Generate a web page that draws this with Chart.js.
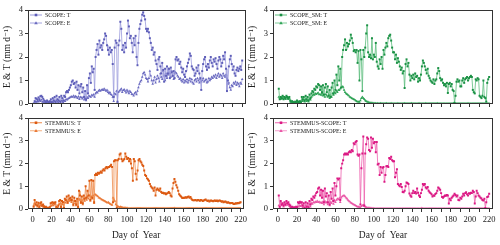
<!DOCTYPE html>
<html>
<head>
<meta charset="utf-8">
<script src="https://cdn.jsdelivr.net/npm/chart.js@4.4.1/dist/chart.umd.min.js"></script>
<style>
  html, body { margin: 0; padding: 0; background: #fff; }
  #wrap { position: relative; width: 500px; height: 245px; overflow: hidden; }
  canvas { position: absolute; }
</style>
</head>
<body>
<div id="wrap">
  <canvas id="c1" width="250" height="112" style="left:0;top:0"></canvas>
  <canvas id="c2" width="255" height="112" style="left:245px;top:0"></canvas>
  <canvas id="c3" width="250" height="133" style="left:0;top:112px"></canvas>
  <canvas id="c4" width="255" height="133" style="left:245px;top:112px"></canvas>
</div>
<script>
// day of year 1..220
const dayFirst = 1, dayLast = 220;
const days = [];
for (let d = dayFirst; d <= dayLast; d++) days.push(d);

const xTicks = [0, 10, 20, 30, 40, 50, 60, 70, 80, 90, 100, 110, 120, 130, 140, 150, 160, 170, 180, 190, 200, 210, 220];
const xLabels = [0, 20, 40, 60, 80, 100, 120, 140, 160, 180, 200, 220];
const yTicks = [0, 1, 2, 3, 4];

// SCOPE
const scopeT = [
  0.02, 0.12, 0.25, 0.22, 0.18, 0.28, 0.2, 0.33, 0.35, 0.3,
  0.22, 0.15, 0.12, 0.08, 0.15, 0.1, 0.05, 0.12, 0.2, 0.08,
  0.25, 0.15, 0.3, 0.1, 0.35, 0.2, 0.15, 0.3, 0.1, 0.35,
  0.25, 0.15, 0.35, 0.3, 0.5, 0.55, 0.5, 0.6, 0.7, 0.8,
  0.95, 1.0, 0.85, 0.9, 0.7, 0.95, 0.6, 0.8, 0.45, 0.75,
  0.85, 0.5, 0.7, 0.3, 0.55, 0.2, 0.8, 0.45, 1.1, 1.3,
  0.9, 1.6, 1.35, 1.5, 0.6, 2.0, 2.3, 2.55, 2.1, 2.7,
  2.4, 2.5, 2.3, 2.6, 2.75, 3.0, 2.9, 2.5, 2.3, 2.1,
  2.4, 2.2, 2.3, 1.7, 0.3, 2.4, 2.7, 2.6, 0.1, 2.5,
  2.7, 3.5, 3.2, 2.3, 2.5, 2.2, 2.6, 2.4, 3.0, 3.55,
  3.3, 2.8, 2.9, 2.6, 2.2, 2.8, 2.5, 2.9, 2.0, 1.65,
  2.6, 3.2, 3.4, 3.55, 3.8, 3.9, 3.75, 3.6, 3.2, 3.1,
  3.2, 3.05, 2.8, 2.6, 2.3, 2.4, 2.1, 2.2, 1.85, 1.7,
  1.45, 1.9, 2.0, 1.6, 1.3, 1.75, 1.45, 0.95, 1.5, 1.2,
  1.6, 1.3, 1.5, 1.1, 1.55, 1.35, 1.2, 1.4, 1.1, 1.9,
  2.0, 1.85, 1.9, 1.7, 1.8, 1.55, 1.35, 1.5, 1.25, 1.15,
  1.4, 1.6, 1.75, 1.9, 2.15, 2.05, 1.6, 1.5, 1.45, 1.2,
  1.3, 1.55, 1.4, 1.65, 1.3, 1.1, 0.6, 1.4, 1.7, 1.9,
  2.0, 1.6, 1.45, 1.7, 1.55, 1.85, 2.0, 1.75, 1.6, 1.9,
  1.8, 1.95, 1.7, 1.5, 1.85, 2.0, 1.9, 1.6, 1.75, 2.05,
  1.9, 2.2, 1.5, 0.55, 1.0, 1.6, 1.9, 2.05, 1.7, 1.45,
  1.6, 1.3, 1.2, 1.45, 1.55, 1.4, 1.5, 1.6, 1.45, 1.85
];
const scopeE = [
  0.0, 0.05, 0.1, 0.08, 0.12, 0.1, 0.15, 0.12, 0.18, 0.1,
  0.08, 0.05, 0.03, 0.05, 0.02, 0.04, 0.03, 0.06, 0.08, 0.04,
  0.1, 0.06, 0.12, 0.05, 0.15, 0.08, 0.05, 0.12, 0.04, 0.15,
  0.1, 0.06, 0.15, 0.12, 0.2, 0.18, 0.22, 0.25, 0.28, 0.3,
  0.32, 0.3, 0.35, 0.28, 0.33, 0.3, 0.25, 0.32, 0.2, 0.3,
  0.28, 0.22, 0.3, 0.18, 0.25, 0.15, 0.3, 0.25, 0.35, 0.32,
  0.3, 0.38, 0.35, 0.4, 0.3, 0.45, 0.5, 0.48, 0.55, 0.6,
  0.55, 0.6, 0.62, 0.58, 0.65, 0.6, 0.55, 0.6, 0.5, 0.45,
  0.5, 0.42, 0.38, 0.3, 0.12, 0.45, 0.4, 0.55, 0.08, 0.5,
  0.55, 0.6, 0.65, 0.5, 0.58, 0.62, 0.55, 0.48, 0.6, 0.52,
  0.45, 0.55, 0.5, 0.42, 0.4, 0.35, 0.45, 0.5, 0.4, 0.55,
  0.7, 0.85, 0.95, 1.0, 1.15, 1.3, 1.35, 1.25, 1.1, 1.05,
  0.95, 1.1, 1.4, 1.2, 1.0, 0.85, 1.0, 1.15, 0.9, 1.05,
  1.2, 1.1, 0.95, 1.3, 1.15, 1.05, 1.4, 1.2, 1.0, 1.3,
  1.1, 1.25, 1.5, 1.3, 1.15, 1.4, 1.2, 1.05, 1.3, 1.35,
  1.3, 1.2, 1.15, 1.05, 1.1, 1.0, 0.95, 1.05, 0.9, 1.0,
  0.95, 1.05, 0.9, 1.0, 1.1, 0.95, 1.05, 0.9, 0.85, 1.0,
  1.05, 0.95, 1.1, 1.0, 0.9, 1.05, 0.95, 1.0, 1.1, 0.95,
  1.0, 1.05, 0.9, 0.95, 1.1, 1.0, 1.05, 1.15, 1.1, 1.2,
  1.15, 1.25, 1.1, 1.2, 1.3, 1.15, 1.25, 1.2, 1.1, 1.3,
  1.2, 1.15, 1.25, 1.1, 0.85, 0.9, 0.7, 0.6, 0.8, 0.75,
  0.9, 0.85, 0.95, 0.8, 0.9, 0.85, 0.75, 0.9, 0.85, 1.05
];

// SCOPE_SM
const scopeSmT = [
  0.65, 0.2, 0.3, 0.25, 0.35, 0.2, 0.3, 0.25, 0.35, 0.3,
  0.25, 0.3, 0.15, 0.1, 0.12, 0.08, 0.05, 0.1, 0.08, 0.15,
  0.1, 0.05, 0.12, 0.08, 0.3, 0.2, 0.3, 0.15, 0.35, 0.2,
  0.3, 0.15, 0.4, 0.25, 0.45, 0.55, 0.5, 0.65, 0.6, 0.75,
  0.7, 0.85, 0.8, 0.6, 0.75, 0.5, 0.8, 0.4, 0.7, 0.85,
  0.5, 0.75, 0.35, 0.6, 0.3, 0.7, 0.9, 0.45, 1.0, 0.6,
  1.25, 0.8, 1.6, 1.0, 1.5, 0.7, 2.0, 2.3, 2.5, 2.75,
  2.3, 2.6, 2.45, 2.55, 2.7, 2.95, 2.8, 2.6, 2.25, 2.3,
  2.2, 2.3, 1.75, 2.25, 1.0, 2.3, 1.9, 0.55, 2.3, 2.0,
  2.4, 3.0, 3.35, 2.2, 2.0, 2.1, 1.95, 2.8, 1.9, 2.1,
  2.0, 2.6, 1.8, 1.6, 1.5, 1.9, 1.7, 2.0, 1.5, 2.3,
  2.1, 2.4, 2.6, 2.45, 2.8, 2.9, 2.95, 2.7, 2.4, 2.2,
  2.2, 1.9, 2.1, 1.75, 1.95, 1.8, 1.6, 1.45, 1.55, 1.3,
  1.4, 0.68, 1.7, 1.9, 1.6, 1.75, 1.25, 1.0, 1.2, 1.1,
  1.25, 1.05, 1.3, 1.15, 1.2, 0.95, 1.1, 1.0, 1.25, 1.6,
  1.85, 1.75, 1.6, 1.45, 1.3, 1.5, 1.2, 1.1, 1.0, 0.95,
  0.9, 1.05, 0.85, 1.0, 1.05, 1.3, 1.53, 1.4, 1.1, 1.0,
  1.05, 0.9, 0.8, 0.85, 0.75, 0.9, 0.47, 0.85, 0.9, 0.75,
  0.85, 0.6, 0.55, 0.05, 0.35, 0.95, 1.05, 0.95, 1.0, 0.75,
  0.75, 1.0, 1.1, 0.9, 1.05, 1.1, 1.15, 1.0, 1.1, 1.15,
  1.2, 1.15, 0.6, 0.5, 0.45, 1.05, 1.0, 1.1, 1.05, 0.35,
  0.3, 0.25, 0.35, 1.0, 0.3, 0.25, 0.1, 0.9, 1.05, 1.15
];
const scopeSmE = [
  0.3, 0.25, 0.2, 0.28, 0.22, 0.3, 0.25, 0.2, 0.3, 0.22,
  0.2, 0.25, 0.1, 0.08, 0.05, 0.06, 0.04, 0.05, 0.08, 0.06,
  0.08, 0.05, 0.1, 0.06, 0.15, 0.12, 0.18, 0.1, 0.2, 0.12,
  0.15, 0.1, 0.2, 0.18, 0.3, 0.35, 0.4, 0.38, 0.45, 0.42,
  0.45, 0.48, 0.4, 0.42, 0.38, 0.45, 0.35, 0.4, 0.3, 0.42,
  0.35, 0.3, 0.4, 0.25, 0.35, 0.3, 0.45, 0.38, 0.5, 0.45,
  0.55, 0.5, 0.6, 0.58, 0.65, 0.7, 0.75, 0.72, 0.6, 0.5,
  0.45, 0.42, 0.38, 0.35, 0.3, 0.28, 0.25, 0.22, 0.2, 0.18,
  0.15, 0.12, 0.1, 0.1, 0.08, 0.15, 0.25, 0.3, 0.25, 0.2,
  0.15, 0.12, 0.1, 0.08, 0.06, 0.05, 0.05, 0.04, 0.04, 0.03,
  0.03, 0.03, 0.02, 0.03, 0.02, 0.02, 0.03, 0.02, 0.02, 0.02,
  0.02, 0.02, 0.03, 0.02, 0.02, 0.02, 0.02, 0.03, 0.02, 0.02,
  0.02, 0.02, 0.02, 0.02, 0.03, 0.02, 0.02, 0.02, 0.02, 0.02,
  0.02, 0.03, 0.02, 0.02, 0.02, 0.02, 0.02, 0.02, 0.03, 0.02,
  0.02, 0.02, 0.02, 0.02, 0.02, 0.02, 0.03, 0.02, 0.02, 0.02,
  0.02, 0.02, 0.02, 0.03, 0.02, 0.02, 0.02, 0.02, 0.02, 0.02,
  0.02, 0.02, 0.02, 0.02, 0.02, 0.03, 0.02, 0.02, 0.02, 0.02,
  0.02, 0.02, 0.02, 0.02, 0.02, 0.02, 0.02, 0.02, 0.02, 0.02,
  0.02, 0.02, 0.03, 0.02, 0.02, 0.02, 0.02, 0.02, 0.02, 0.02,
  0.02, 0.02, 0.02, 0.02, 0.02, 0.02, 0.02, 0.03, 0.02, 0.02,
  0.02, 0.02, 0.02, 0.02, 0.02, 0.02, 0.02, 0.02, 0.02, 0.02,
  0.02, 0.02, 0.02, 0.02, 0.02, 0.02, 0.02, 0.02, 0.02, 0.02
];

// STEMMUS
const stemmusT = [
  0.1, 0.4, 0.2, 0.3, 0.15, 0.28, 0.1, 0.25, 0.3, 0.15,
  0.2, 0.12, 0.08, 0.1, 0.05, 0.06, 0.04, 0.08, 0.25, 0.28,
  0.3, 0.25, 0.28, 0.3, 0.1, 0.05, 0.15, 0.35, 0.4, 0.1,
  0.35, 0.3, 0.05, 0.45, 0.4, 0.55, 0.3, 0.6, 0.45, 0.5,
  0.4, 0.55, 0.2, 0.5, 0.35, 0.2, 0.45, 0.1, 0.8, 0.6,
  0.3, 0.55, 0.25, 0.6, 0.45, 1.0, 0.5, 0.8, 0.6, 1.25,
  0.4, 1.28, 0.5, 1.25, 0.3, 1.5, 1.55, 1.5, 1.6, 1.55,
  1.6, 1.65, 1.6, 1.7, 1.75, 1.7, 1.8, 1.85, 1.8, 1.85,
  1.85, 1.9, 1.95, 1.85, 0.3, 2.1, 2.15, 2.15, 0.05, 2.15,
  2.2, 2.4, 2.45, 2.2, 2.1, 2.15, 2.2, 2.45, 2.3, 2.2,
  2.25, 2.1, 2.2, 2.0, 1.8, 1.25, 2.2, 2.1, 1.55, 1.3,
  1.7, 2.15, 2.2, 2.1, 2.05, 1.95, 1.9, 1.7, 1.5, 1.45,
  1.35, 1.3, 1.25, 1.1, 1.0, 0.95, 0.9, 0.8, 0.95, 0.6,
  0.85, 0.9, 0.85, 0.8, 0.9, 0.75, 0.7, 0.72, 0.68, 0.7,
  0.65, 0.68, 0.7, 0.75, 0.7, 0.6, 0.55, 0.9, 1.15, 1.32,
  1.2, 1.05, 0.95, 0.8, 0.65, 0.6, 0.55, 0.5, 0.48, 0.5,
  0.5, 0.52, 0.5, 0.53, 0.55, 0.5, 0.53, 0.45, 0.4, 0.38,
  0.38, 0.4, 0.38, 0.37, 0.4, 0.38, 0.36, 0.4, 0.38, 0.35,
  0.37, 0.4, 0.42, 0.38, 0.35, 0.37, 0.33, 0.36, 0.38, 0.35,
  0.34, 0.36, 0.38, 0.35, 0.37, 0.34, 0.36, 0.38, 0.35, 0.32,
  0.34, 0.3, 0.32, 0.33, 0.3, 0.28, 0.3, 0.27, 0.25, 0.27,
  0.26, 0.24, 0.22, 0.23, 0.25, 0.24, 0.26, 0.25, 0.28, 0.3
];
const stemmusE = [
  0.15, 0.25, 0.2, 0.15, 0.1, 0.2, 0.08, 0.15, 0.2, 0.12,
  0.1, 0.08, 0.05, 0.06, 0.03, 0.04, 0.03, 0.05, 0.12, 0.15,
  0.18, 0.15, 0.2, 0.22, 0.08, 0.04, 0.1, 0.2, 0.25, 0.08,
  0.22, 0.2, 0.05, 0.3, 0.28, 0.35, 0.25, 0.4, 0.35, 0.38,
  0.3, 0.4, 0.15, 0.35, 0.25, 0.15, 0.35, 0.08, 0.45, 0.4,
  0.25, 0.4, 0.2, 0.45, 0.35, 0.5, 0.4, 0.55, 0.45, 0.6,
  0.35, 0.55, 0.45, 0.6, 0.25, 0.65, 0.62, 0.58, 0.55, 0.5,
  0.48, 0.45, 0.42, 0.4, 0.38, 0.35, 0.33, 0.3, 0.28, 0.3,
  0.25, 0.22, 0.2, 0.18, 0.5, 0.4, 0.35, 0.2, 0.15, 0.12,
  0.1, 0.08, 0.1, 0.08, 0.07, 0.06, 0.05, 0.05, 0.04, 0.04,
  0.03, 0.03, 0.03, 0.03, 0.03, 0.03, 0.03, 0.03, 0.03, 0.03,
  0.03, 0.03, 0.03, 0.03, 0.03, 0.03, 0.03, 0.03, 0.03, 0.03,
  0.03, 0.03, 0.03, 0.03, 0.03, 0.03, 0.03, 0.03, 0.03, 0.03,
  0.03, 0.03, 0.03, 0.03, 0.03, 0.03, 0.03, 0.03, 0.03, 0.03,
  0.03, 0.03, 0.03, 0.03, 0.03, 0.03, 0.03, 0.03, 0.03, 0.04,
  0.03, 0.03, 0.03, 0.03, 0.03, 0.03, 0.03, 0.03, 0.03, 0.03,
  0.03, 0.03, 0.03, 0.03, 0.03, 0.03, 0.03, 0.03, 0.03, 0.03,
  0.03, 0.03, 0.03, 0.03, 0.03, 0.03, 0.03, 0.03, 0.03, 0.03,
  0.03, 0.03, 0.03, 0.03, 0.03, 0.03, 0.03, 0.03, 0.03, 0.03,
  0.03, 0.03, 0.03, 0.03, 0.03, 0.03, 0.03, 0.03, 0.03, 0.03,
  0.03, 0.03, 0.03, 0.03, 0.03, 0.03, 0.03, 0.03, 0.03, 0.03,
  0.03, 0.03, 0.03, 0.03, 0.03, 0.03, 0.03, 0.03, 0.03, 0.03
];

// STEMMUS-SCOPE
const stemmusScopeT = [
  0.6, 0.1, 0.35, 0.2, 0.25, 0.15, 0.3, 0.2, 0.35, 0.25,
  0.3, 0.2, 0.15, 0.08, 0.1, 0.05, 0.08, 0.05, 0.1, 0.08,
  0.3, 0.25, 0.32, 0.28, 0.3, 0.15, 0.25, 0.05, 0.3, 0.1,
  0.25, 0.08, 0.35, 0.2, 0.45, 0.4, 0.55, 0.5, 0.6, 0.7,
  0.75, 0.9, 0.95, 0.6, 0.85, 0.5, 0.8, 0.3, 0.9, 0.55,
  0.7, 0.3, 0.6, 0.2, 0.75, 0.45, 0.9, 0.35, 1.15, 0.6,
  1.0, 1.35, 1.3, 1.35, 0.4, 1.8, 2.0, 2.15, 2.4, 2.45,
  2.4, 2.45, 2.4, 2.5, 2.55, 2.5, 2.6, 2.55, 2.9, 2.85,
  2.95, 3.0, 2.4, 2.35, 2.4, 0.2, 1.8, 2.45, 3.2, 0.15,
  2.45, 2.85, 3.15, 3.1, 2.6, 2.55, 3.15, 2.7, 3.1, 2.9,
  2.95, 2.5, 2.95, 1.96, 2.0, 1.5, 1.85, 1.6, 1.82, 1.85,
  1.2, 1.5, 1.88, 1.9, 1.85, 2.25, 2.2, 2.3, 2.15, 2.1,
  2.1, 1.4, 1.6, 1.75, 1.1, 1.05, 1.0, 1.1, 0.97, 0.75,
  0.74, 0.8, 1.0, 1.17, 1.15, 1.1, 0.68, 0.6, 0.54, 0.7,
  0.8, 0.7, 0.75, 0.68, 0.9, 0.72, 0.6, 0.53, 0.7, 0.85,
  1.1, 1.05, 1.1, 0.95, 0.9, 0.97, 0.8, 0.74, 0.7, 0.65,
  0.55, 0.6, 0.58, 0.66, 0.7, 0.8, 0.95, 0.9, 0.85, 0.7,
  0.53, 0.5, 0.55, 0.6, 0.58, 0.62, 0.6, 0.24, 0.45, 0.38,
  0.5, 0.55, 0.6, 0.67, 0.62, 0.55, 0.6, 0.4, 0.38, 0.5,
  0.45, 0.55, 0.67, 0.6, 0.7, 0.74, 0.65, 0.6, 0.7, 0.67,
  0.72, 0.7, 0.8, 0.75, 0.24, 0.55, 0.8, 0.7, 0.6, 0.55,
  0.5, 0.46, 0.4, 0.37, 0.45, 0.05, 0.3, 0.53, 0.55, 0.67
];
const stemmusScopeE = [
  0.15, 0.05, 0.3, 0.15, 0.2, 0.1, 0.22, 0.15, 0.25, 0.18,
  0.2, 0.12, 0.08, 0.05, 0.06, 0.03, 0.05, 0.03, 0.06, 0.05,
  0.12, 0.1, 0.15, 0.12, 0.18, 0.08, 0.1, 0.03, 0.15, 0.05,
  0.12, 0.05, 0.2, 0.1, 0.25, 0.22, 0.3, 0.28, 0.32, 0.3,
  0.35, 0.3, 0.32, 0.28, 0.3, 0.25, 0.32, 0.2, 0.35, 0.28,
  0.3, 0.2, 0.28, 0.15, 0.3, 0.25, 0.35, 0.22, 0.4, 0.3,
  0.4, 0.45, 0.42, 0.48, 0.3, 0.5, 0.55, 0.58, 0.6, 0.55,
  0.5, 0.45, 0.4, 0.35, 0.32, 0.28, 0.25, 0.22, 0.2, 0.18,
  0.15, 0.12, 0.1, 0.1, 0.08, 0.05, 0.12, 0.15, 0.18, 0.12,
  0.1, 0.08, 0.06, 0.05, 0.05, 0.04, 0.04, 0.03, 0.03, 0.03,
  0.02, 0.02, 0.02, 0.02, 0.02, 0.02, 0.02, 0.02, 0.02, 0.02,
  0.02, 0.02, 0.02, 0.02, 0.02, 0.02, 0.02, 0.02, 0.02, 0.02,
  0.02, 0.02, 0.02, 0.02, 0.02, 0.02, 0.02, 0.02, 0.02, 0.02,
  0.02, 0.02, 0.02, 0.02, 0.02, 0.02, 0.02, 0.02, 0.02, 0.02,
  0.02, 0.02, 0.02, 0.02, 0.02, 0.02, 0.02, 0.02, 0.02, 0.04,
  0.02, 0.02, 0.02, 0.02, 0.02, 0.02, 0.02, 0.02, 0.02, 0.02,
  0.02, 0.02, 0.02, 0.02, 0.02, 0.02, 0.02, 0.02, 0.02, 0.02,
  0.02, 0.02, 0.02, 0.02, 0.02, 0.02, 0.02, 0.02, 0.02, 0.02,
  0.02, 0.02, 0.02, 0.02, 0.02, 0.02, 0.02, 0.02, 0.02, 0.02,
  0.02, 0.02, 0.02, 0.02, 0.02, 0.02, 0.02, 0.02, 0.02, 0.02,
  0.02, 0.02, 0.02, 0.02, 0.02, 0.02, 0.02, 0.02, 0.02, 0.02,
  0.02, 0.02, 0.02, 0.02, 0.02, 0.02, 0.02, 0.02, 0.02, 0.02
];

const serif = "'Liberation Serif', 'DejaVu Serif', serif";
const ink = '#222';

// frame box + inline legend (line with marker in the middle)
const panelDecor = {
  id: 'panelDecor',
  afterDatasetsDraw(chart, args, opts) {
    const { ctx, chartArea: a } = chart;
    ctx.save();
    ctx.strokeStyle = '#333';
    ctx.lineWidth = 1;
    const l = Math.round(a.left) + 0.5, t = Math.round(a.top) + 0.5;
    const r = Math.round(a.right) - 0.5, b = Math.round(a.bottom) - 0.5;
    ctx.strokeRect(l, t, r - l, b - t);

    chart.data.datasets.forEach((ds, i) => {
      const y = a.top + opts.top + i * 8;
      const x0 = a.left + 2, x1 = a.left + 14, xm = (x0 + x1) / 2;
      ctx.strokeStyle = ds.borderColor;
      ctx.lineWidth = 1;
      ctx.beginPath();
      ctx.moveTo(x0, y);
      ctx.lineTo(x1, y);
      ctx.stroke();
      ctx.fillStyle = ds.pointBackgroundColor;
      ctx.beginPath();
      if (ds.pointStyle === 'triangle') {
        ctx.moveTo(xm, y - 1.8);
        ctx.lineTo(xm + 1.8, y + 1.3);
        ctx.lineTo(xm - 1.8, y + 1.3);
        ctx.closePath();
      } else {
        ctx.rect(xm - 1.3, y - 1.3, 2.6, 2.6);
      }
      ctx.fill();
      ctx.fillStyle = ink;
      ctx.font = '6px ' + serif;
      ctx.textBaseline = 'middle';
      ctx.textAlign = 'left';
      ctx.fillText(ds.label, a.left + 17, y + 0.5);
    });
    ctx.restore();
  }
};

// colors: [T line, T marker, E line, E marker]
function makePanel(id, names, tData, eData, colors, bottom, padRight) {
  const toPoints = arr => days.map((d, i) => ({ x: d, y: arr[i] }));
  return new Chart(document.getElementById(id), {
    type: 'line',
    data: {
      datasets: [{
        label: names[0],
        data: toPoints(tData),
        borderColor: colors[0],
        pointBackgroundColor: colors[1],
        borderWidth: 0.8,
        pointStyle: 'rect',
        pointRadius: 1.4,
        pointBorderWidth: 0,
        tension: 0
      }, {
        label: names[1],
        data: toPoints(eData),
        borderColor: colors[2],
        pointBackgroundColor: colors[3],
        borderWidth: 0.8,
        pointStyle: 'triangle',
        pointRadius: 1.5,
        pointBorderWidth: 0,
        tension: 0
      }]
    },
    options: {
      responsive: false,
      animation: false,
      events: [],
      layout: { padding: { top: bottom ? 4 : 10, right: padRight, bottom: 0, left: 0 } },
      plugins: {
        legend: { display: false },
        tooltip: { enabled: false },
        panelDecor: { top: bottom ? 4.5 : 5 }
      },
      scales: {
        x: {
          type: 'linear',
          min: -5,
          max: 224,
          afterBuildTicks: s => { s.ticks = xTicks.map(v => ({ value: v })); },
          afterFit: s => { s.height = bottom ? 36 : 8; },
          grid: { drawOnChartArea: false, drawTicks: true, tickLength: 3, color: '#333' },
          border: { display: false },
          ticks: {
            display: bottom,
            autoSkip: false,
            maxRotation: 0,
            padding: 3,
            color: ink,
            font: { family: serif, size: 8.5 },
            callback: v => (xLabels.includes(v) ? String(v) : '')
          },
          title: {
            display: bottom,
            text: 'Day of  Year',
            color: ink,
            font: { family: serif, size: 9.5 },
            padding: { top: 0, bottom: 4.3 }
          }
        },
        y: {
          min: 0,
          max: 4,
          afterBuildTicks: s => { s.ticks = yTicks.map(v => ({ value: v })); },
          afterFit: s => { s.width = 28; },
          grid: { drawOnChartArea: false, drawTicks: true, tickLength: 3, color: '#333' },
          border: { display: false },
          ticks: {
            padding: 2,
            color: ink,
            font: { family: serif, size: 8.5, lineHeight: 1 }
          },
          title: {
            display: true,
            text: 'E & T (mm d\u207B\u00B9)',
            color: ink,
            font: { family: serif, size: 9.5 },
            padding: { top: 2, bottom: 0 }
          }
        }
      }
    },
    plugins: [panelDecor]
  });
}

makePanel('c1', ['SCOPE: T', 'SCOPE: E'], scopeT, scopeE, ['#9a9adc', '#5e5eb8', '#a4a4e0', '#6a6abf'], false, 3);
makePanel('c2', ['SCOPE_SM: T', 'SCOPE_SM: E'], scopeSmT, scopeSmE, ['#5cbd7c', '#1b9145', '#7fcc98', '#2fa356'], false, 7);
makePanel('c3', ['STEMMUS: T', 'STEMMUS: E'], stemmusT, stemmusE, ['#ee8a4a', '#dc5a12', '#f4b080', '#ea7a38'], true, 3);
makePanel('c4', ['STEMMUS-SCOPE: T', 'STEMMUS-SCOPE: E'], stemmusScopeT, stemmusScopeE, ['#ee62ae', '#db1a84', '#f59acb', '#e956a6'], true, 7);
</script>
</body>
</html>
